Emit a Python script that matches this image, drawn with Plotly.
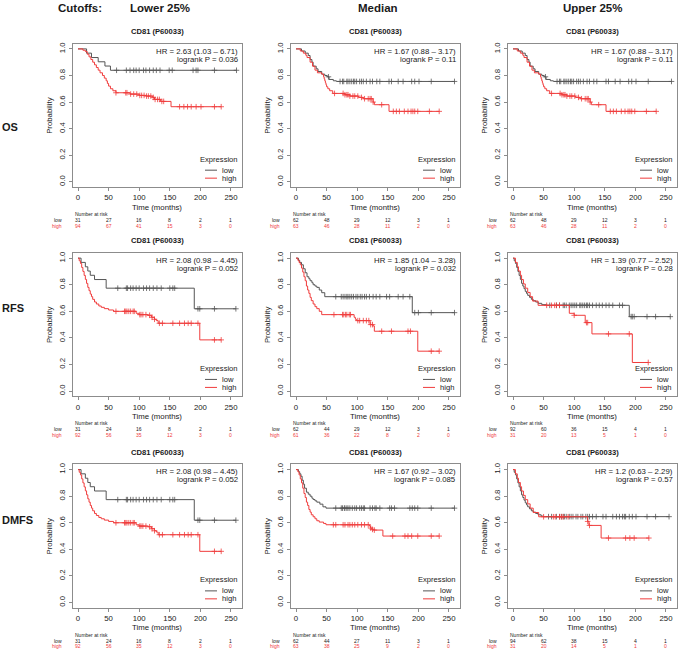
import plotly.graph_objects as go

W, H = 678, 650
FONT = "Liberation Sans, Arial, Helvetica, sans-serif"
LOW_COLOR = "#555555"
HIGH_COLOR = "#f03c3c"
FRAME = "#8c8c8c"
TEXT = "#1a1a1a"

CUTOFFS = ["Lower 25%", "Median", "Upper 25%"]
ENDPOINTS = ["OS", "RFS", "DMFS"]
PROBE = "CD81 (P60033)"
RISK_TIMES = [0, 50, 100, 150, 200, 250]
PROB_TICKS = [0.0, 0.2, 0.4, 0.6, 0.8, 1.0]

# ---- OS, lower quartile cutoff
os_q1_low_t = [14, 22, 33, 44, 53]
os_q1_low_s = [0.968, 0.935, 0.903, 0.871, 0.839]
os_q1_low_cens = [63, 79, 85, 91, 95, 100, 107, 111, 117, 123, 128, 134, 149, 154, 188, 193, 196, 223, 259]
os_q1_high_t = [8, 12, 15, 18, 21, 24, 27, 30, 33, 36, 40, 43, 46, 48, 50, 53, 57, 62, 85, 100, 112, 122, 125, 135, 152]
os_q1_high_s = [0.99, 0.98, 0.96, 0.94, 0.92, 0.90, 0.88, 0.86, 0.84, 0.82, 0.80, 0.78, 0.76, 0.74, 0.72, 0.70,
                0.685, 0.67, 0.66, 0.65, 0.645, 0.635, 0.62, 0.605, 0.565]
os_q1_high_cens = [62, 78, 80, 86, 91, 96, 101, 104, 108, 112, 115, 119, 123, 126, 130, 133, 137, 140, 166, 173,
                   179, 185, 193, 201, 223, 234]

# ---- OS, median cutoff (upper quartile plot is the same)
os_med_low_t = [9, 15, 20, 23, 26, 28, 33, 36, 42, 47, 51, 54, 61, 66]
os_med_low_s = [0.984, 0.968, 0.95, 0.92, 0.90, 0.87, 0.85, 0.83, 0.81, 0.80, 0.79, 0.77, 0.76, 0.755]
os_med_low_cens = [53, 72, 76, 78, 83, 85, 88, 91, 94, 96, 99, 104, 107, 110, 115, 121, 125, 132, 137, 152, 156,
                   167, 175, 189, 194, 201, 221, 259]
os_med_high_t = [7, 12, 16, 18, 23, 27, 31, 35, 42, 45, 46, 47, 48, 49, 50, 52, 55, 60, 80, 88, 102, 110, 126, 128, 152]
os_med_high_s = [0.984, 0.968, 0.952, 0.935, 0.90, 0.87, 0.84, 0.82, 0.81, 0.79, 0.775, 0.76, 0.745, 0.73, 0.715,
                 0.70, 0.685, 0.665, 0.655, 0.645, 0.635, 0.625, 0.60, 0.58, 0.53]
os_med_high_cens = [63, 77, 80, 83, 85, 88, 93, 96, 101, 107, 112, 118, 121, 123, 126, 140, 159, 164, 169, 177,
                    183, 188, 191, 194, 199, 218, 234]

# ---- RFS / DMFS, lower quartile cutoff (identical plots)
rfs_q1_low_t = [5, 12, 16, 20, 27, 46, 190]
rfs_q1_low_s = [0.968, 0.935, 0.903, 0.871, 0.839, 0.774, 0.619]
rfs_q1_low_cens = [65, 79, 81, 86, 90, 95, 100, 107, 112, 117, 123, 129, 136, 150, 155, 158, 196, 199, 223, 258]
rfs_q1_high_t = [2, 4, 6, 8, 10, 12, 14, 16, 18, 20, 22, 24, 27, 30, 34, 38, 43, 50, 58, 95, 100, 114, 120, 125,
                 128, 131, 199]
rfs_q1_high_s = [0.98, 0.96, 0.93, 0.90, 0.87, 0.84, 0.81, 0.78, 0.755, 0.73, 0.71, 0.69, 0.67, 0.655, 0.64, 0.63,
                 0.62, 0.61, 0.60, 0.585, 0.575, 0.57, 0.555, 0.54, 0.53, 0.51, 0.385]
rfs_q1_high_cens = [62, 76, 78, 80, 83, 86, 90, 92, 101, 103, 106, 111, 117, 121, 125, 133, 138, 155, 166, 174,
                    180, 185, 196, 223, 234]

# ---- RFS, median cutoff
rfs_med_low_t = [4, 6, 9, 12, 15, 18, 21, 23, 26, 28, 31, 34, 38, 42, 47, 190]
rfs_med_low_s = [0.984, 0.968, 0.95, 0.92, 0.89, 0.86, 0.845, 0.83, 0.815, 0.80, 0.79, 0.78, 0.76, 0.74, 0.71, 0.59]
rfs_med_low_cens = [65, 74, 77, 80, 83, 85, 88, 91, 94, 98, 101, 105, 108, 112, 115, 120, 126, 131, 137, 148,
                    153, 167, 175, 186, 194, 200, 221, 259]
rfs_med_high_t = [3, 5, 7, 9, 11, 13, 15, 17, 19, 21, 23, 25, 28, 31, 34, 38, 42, 95, 97, 99, 121, 126, 128, 199]
rfs_med_high_s = [0.984, 0.967, 0.95, 0.925, 0.895, 0.86, 0.83, 0.79, 0.76, 0.735, 0.705, 0.68, 0.655, 0.635,
                  0.62, 0.60, 0.575, 0.555, 0.54, 0.53, 0.50, 0.49, 0.45, 0.30]
rfs_med_high_cens = [62, 76, 78, 81, 83, 87, 89, 101, 104, 110, 115, 119, 122, 125, 140, 156, 183, 187, 221, 234]

# ---- RFS, upper quartile cutoff
rfs_q3_low_t = [2, 4, 6, 8, 10, 12, 14, 16, 18, 20, 22, 24, 27, 30, 33, 37, 41, 47, 55, 190]
rfs_q3_low_s = [0.98, 0.96, 0.93, 0.90, 0.87, 0.84, 0.81, 0.79, 0.77, 0.75, 0.735, 0.72, 0.705, 0.69, 0.68, 0.67,
                0.66, 0.65, 0.645, 0.56]
rfs_q3_low_cens = [60, 71, 76, 82, 84, 87, 92, 95, 98, 101, 104, 109, 111, 114, 117, 120, 122, 125, 130, 136, 141,
                   146, 152, 157, 163, 174, 179, 193, 195, 198, 219, 233, 257]
rfs_q3_high_t = [4, 7, 9, 12, 14, 17, 20, 24, 28, 32, 41, 92, 100, 118, 129, 195]
rfs_q3_high_s = [0.968, 0.935, 0.903, 0.871, 0.839, 0.806, 0.774, 0.742, 0.71, 0.677, 0.645, 0.585, 0.57, 0.515,
                 0.43, 0.215]
rfs_q3_high_cens = [55, 63, 68, 71, 76, 100, 120, 122, 156, 190, 221]

# ---- DMFS, median cutoff
dmfs_med_low_t = [4, 6, 8, 10, 12, 14, 17, 20, 23, 26, 28, 31, 34, 39, 44, 49]
dmfs_med_low_s = [0.984, 0.968, 0.95, 0.92, 0.89, 0.86, 0.83, 0.815, 0.80, 0.785, 0.775, 0.765, 0.755, 0.74,
                  0.72, 0.71]
dmfs_med_low_cens = [65, 74, 76, 79, 80, 83, 85, 88, 92, 96, 99, 104, 107, 110, 112, 121, 125, 129, 131, 137, 153,
                     156, 161, 186, 190, 194, 199, 221, 259]
dmfs_med_high_t = [3, 5, 7, 9, 11, 13, 15, 17, 19, 21, 23, 25, 28, 31, 34, 38, 45, 49, 120, 122, 124, 126, 142]
dmfs_med_high_s = [0.984, 0.96, 0.93, 0.90, 0.86, 0.82, 0.79, 0.755, 0.73, 0.70, 0.68, 0.66, 0.645, 0.63, 0.615,
                   0.605, 0.595, 0.585, 0.575, 0.56, 0.55, 0.545, 0.50]
dmfs_med_high_cens = [61, 65, 77, 80, 85, 88, 92, 96, 101, 107, 112, 118, 122, 125, 128, 158, 178, 183, 189, 199,
                      221, 234]

# ---- DMFS, upper quartile cutoff
dmfs_q3_low_t = [2, 4, 6, 8, 10, 12, 14, 16, 18, 20, 22, 24, 27, 30, 33, 37, 41, 46, 50]
dmfs_q3_low_s = [0.98, 0.96, 0.93, 0.90, 0.87, 0.84, 0.81, 0.79, 0.77, 0.75, 0.735, 0.72, 0.705, 0.69, 0.68, 0.67,
                 0.66, 0.65, 0.646]
dmfs_q3_low_cens = [58, 63, 71, 76, 79, 82, 84, 87, 92, 95, 98, 103, 106, 111, 114, 119, 122, 125, 130, 136, 147,
                    152, 163, 169, 174, 179, 182, 184, 190, 195, 201, 219, 233, 255]
dmfs_q3_high_t = [4, 7, 9, 12, 14, 17, 20, 24, 28, 33, 42, 122, 124, 144]
dmfs_q3_high_s = [0.968, 0.935, 0.903, 0.871, 0.839, 0.806, 0.774, 0.742, 0.71, 0.677, 0.645, 0.61, 0.58, 0.485]
dmfs_q3_high_cens = [50, 66, 69, 76, 79, 82, 90, 122, 125, 156, 184, 191, 198, 222]

# ---- HR / logrank labels
hr_labels = [
    ["HR = 2.63 (1.03 – 6.71)", "HR = 1.67 (0.88 – 3.17)", "HR = 1.67 (0.88 – 3.17)"],
    ["HR = 2.08 (0.98 – 4.45)", "HR = 1.85 (1.04 – 3.28)", "HR = 1.39 (0.77 – 2.52)"],
    ["HR = 2.08 (0.98 – 4.45)", "HR = 1.67 (0.92 – 3.02)", "HR = 1.2 (0.63 – 2.29)"],
]
p_labels = [
    ["logrank P = 0.036", "logrank P = 0.11", "logrank P = 0.11"],
    ["logrank P = 0.052", "logrank P = 0.032", "logrank P = 0.28"],
    ["logrank P = 0.052", "logrank P = 0.085", "logrank P = 0.57"],
]

# ---- number at risk
risk_low = [
    [[31, 27, 16, 8, 2, 1], [62, 48, 29, 12, 3, 1], [62, 48, 29, 12, 3, 1]],
    [[31, 24, 16, 8, 2, 1], [62, 44, 29, 12, 3, 1], [92, 60, 36, 15, 4, 1]],
    [[31, 24, 16, 8, 2, 1], [62, 44, 27, 11, 3, 1], [94, 62, 38, 15, 4, 1]],
]
risk_high = [
    [[94, 67, 41, 15, 3, 0], [63, 46, 28, 11, 2, 0], [63, 46, 28, 11, 2, 0]],
    [[92, 56, 35, 12, 3, 0], [61, 36, 22, 8, 2, 0], [31, 20, 13, 5, 1, 0]],
    [[92, 56, 35, 12, 3, 0], [63, 38, 25, 9, 2, 0], [31, 20, 14, 5, 1, 0]],
]

curves = [
    [((os_q1_low_t, os_q1_low_s, os_q1_low_cens), (os_q1_high_t, os_q1_high_s, os_q1_high_cens)),
     ((os_med_low_t, os_med_low_s, os_med_low_cens), (os_med_high_t, os_med_high_s, os_med_high_cens)),
     ((os_med_low_t, os_med_low_s, os_med_low_cens), (os_med_high_t, os_med_high_s, os_med_high_cens))],
    [((rfs_q1_low_t, rfs_q1_low_s, rfs_q1_low_cens), (rfs_q1_high_t, rfs_q1_high_s, rfs_q1_high_cens)),
     ((rfs_med_low_t, rfs_med_low_s, rfs_med_low_cens), (rfs_med_high_t, rfs_med_high_s, rfs_med_high_cens)),
     ((rfs_q3_low_t, rfs_q3_low_s, rfs_q3_low_cens), (rfs_q3_high_t, rfs_q3_high_s, rfs_q3_high_cens))],
    [((rfs_q1_low_t, rfs_q1_low_s, rfs_q1_low_cens), (rfs_q1_high_t, rfs_q1_high_s, rfs_q1_high_cens)),
     ((dmfs_med_low_t, dmfs_med_low_s, dmfs_med_low_cens), (dmfs_med_high_t, dmfs_med_high_s, dmfs_med_high_cens)),
     ((dmfs_q3_low_t, dmfs_q3_low_s, dmfs_q3_low_cens), (dmfs_q3_high_t, dmfs_q3_high_s, dmfs_q3_high_cens))],
]

# panel geometry in pixels
X_RANGE = [-9, 268]
Y_RANGE = [-0.04, 1.04]
COL_LEFT = [72.5, 290.5, 507.5]
ROW_TOP = [41.7, 251.6, 463.7]
PW, PH = 169.5, 144.0


def px(x):
    return x / W


def py(y):
    return 1 - y / H


def surv_at(times, surv, t):
    s = 1.0
    for ti, si in zip(times, surv):
        if ti <= t:
            s = si
    return s


fig = go.Figure()
annotations = []
shapes = []
layout_axes = {}


def note(text, x, y, size, color=TEXT, xanchor="center", yanchor="middle", xref="paper", angle=0):
    annotations.append(dict(text=text, x=x, y=y, xref=xref, yref="paper", showarrow=False,
                            xanchor=xanchor, yanchor=yanchor, textangle=angle,
                            font=dict(family=FONT, size=size, color=color)))


for r in range(3):
    for c in range(3):
        k = r * 3 + c + 1
        left, top = COL_LEFT[c], ROW_TOP[r]
        right, bottom = left + PW, top + PH
        xa, ya = f"x{k}", f"y{k}"

        layout_axes[f"xaxis{k}"] = dict(
            domain=[px(left), px(right)], range=X_RANGE, anchor=ya, tickvals=RISK_TIMES,
            ticks="outside", ticklen=3, tickcolor=FRAME, showline=True, mirror=True, linecolor=FRAME,
            linewidth=1, showgrid=False, zeroline=False, tickfont=dict(family=FONT, size=7.8, color=TEXT))
        layout_axes[f"yaxis{k}"] = dict(
            domain=[py(bottom), py(top)], range=Y_RANGE, anchor=xa, tickvals=PROB_TICKS,
            ticktext=[f"{v:.1f}" for v in PROB_TICKS], tickangle=-90,
            ticks="outside", ticklen=3, tickcolor=FRAME, showline=True, mirror=True, linecolor=FRAME,
            linewidth=1, showgrid=False, zeroline=False, tickfont=dict(family=FONT, size=7.8, color=TEXT))

        for (times, surv, cens), color in zip(curves[r][c], [LOW_COLOR, HIGH_COLOR]):
            end = max(cens + times)
            fig.add_trace(go.Scatter(
                x=[0] + times + [end], y=[1.0] + surv + [surv[-1]], mode="lines",
                line=dict(color=color, width=1, shape="hv"), xaxis=xa, yaxis=ya,
                showlegend=False, hoverinfo="skip"))
            fig.add_trace(go.Scatter(
                x=cens, y=[surv_at(times, surv, t) for t in cens], mode="markers",
                marker=dict(symbol="cross-thin", size=4, line=dict(color=color, width=0.8)),
                xaxis=xa, yaxis=ya, showlegend=False, hoverinfo="skip"))

        cx = (left + right) / 2
        note(f"<b>{PROBE}</b>", px(cx), py(top - 12), 7.6)
        note("Probability", px(left - 23), py((top + bottom) / 2), 7.8, angle=-90)
        note("Time (months)", px(cx), py(bottom + 20), 7.8)
        note(hr_labels[r][c], px(right - 2), py(top + 7.6), 7.8, xanchor="right")
        note(p_labels[r][c], px(right - 2), py(top + 15.6), 7.8, xanchor="right")

        # legend
        note("Expression", px(right - 2), py(bottom - 28), 7.6, xanchor="right")
        for i, (lab, color) in enumerate([("low", LOW_COLOR), ("high", HIGH_COLOR)]):
            yy = bottom - 17 + 8 * i
            shapes.append(dict(type="line", xref="paper", yref="paper", x0=px(right - 37), x1=px(right - 25),
                               y0=py(yy), y1=py(yy), line=dict(color=color, width=1)))
            note(lab, px(right - 22), py(yy), 7.6, xanchor="left")

        # number at risk table
        note("Number at risk", px(left + 0.5), py(bottom + 27), 5, xanchor="left")
        for lab, counts, color, dy in [("low", risk_low[r][c], TEXT, 33), ("high", risk_high[r][c], HIGH_COLOR, 38.5)]:
            note(lab, px(left - 9), py(bottom + dy), 5, color=color, xanchor="right")
            for t, n in zip(RISK_TIMES, counts):
                note(str(n), t, py(bottom + dy), 5, color=color, xref=xa)

# headers
note("<b>Cutoffs:</b>", px(80), py(6), 11.5)
for label, x in zip(CUTOFFS, [160, 378, 592]):
    note(f"<b>{label}</b>", px(x), py(6), 11.5)
for label, y in zip(ENDPOINTS, [125, 307, 520]):
    note(f"<b>{label}</b>", px(0), py(y), 11, xanchor="left")

fig.update_layout(
    width=W, height=H, margin=dict(l=0, r=0, t=0, b=0),
    paper_bgcolor="white", plot_bgcolor="white",
    annotations=annotations, shapes=shapes, showlegend=False,
    font=dict(family=FONT, color=TEXT),
    **layout_axes,
)

# the page's default body margin would push the 678x650 figure out of the window
fig.write_html("out.html", config={"displayModeBar": False},
               post_script="document.body.style.margin='0px';")
